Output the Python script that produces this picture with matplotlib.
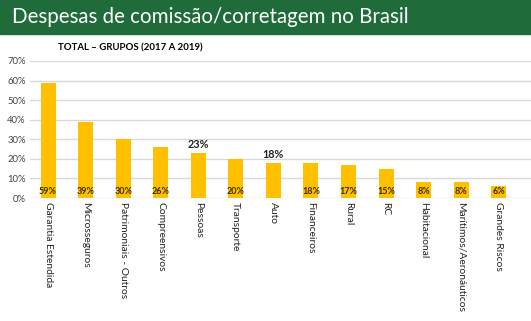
import matplotlib.pyplot as plt
from matplotlib.patches import Rectangle

categories = ["Garantia Estendida", "Microsseguros", "Patrimoniais - Outros",
              "Compreensivos", "Pessoas", "Transporte", "Auto", "Financeiros",
              "Rural", "RC", "Habitacional", "Marítimos/Aeronáuticos",
              "Grandes Riscos"]
values = [59, 39, 30, 26, 23, 20, 18, 18, 17, 15, 8, 8, 6]
highlighted = ["Pessoas", "Auto"]   # labels drawn above these bars
yticks = [0, 10, 20, 30, 40, 50, 60, 70]

plt.rcParams['font.family'] = ['Lato', 'DejaVu Sans']

fig = plt.figure(figsize=(5.31, 3.21), dpi=100)
fig.patch.set_facecolor("white")

# green header band
fig.patches.append(Rectangle((0, 1 - 34 / 321), 1, 34 / 321,
                             transform=fig.transFigure, color="#1F6B3A", zorder=0))
fig.text(12 / 531, 1 - 17 / 321, "Despesas de comissão/corretagem no Brasil",
         color="white", fontsize=14.8, va="center", ha="left")
fig.text(58 / 531, 1 - 48 / 321, "TOTAL – GRUPOS (2017 A 2019)",
         fontsize=6.9, fontweight="bold", va="center", ha="left")

ax = fig.add_axes([30 / 531, 123 / 321, 501 / 531, 137 / 321])
x = list(range(len(categories)))
ax.bar(x, values, width=0.4, color="#FFC000", zorder=2)

for xi, cat, v in zip(x, categories, values):
    if cat in highlighted:
        ax.text(xi, v + 1.5, f"{v}%", ha="center", va="bottom",
                fontsize=7.8, fontweight="bold", color="#222222")
    else:
        ax.text(xi, 3.2, f"{v}%", ha="center", va="center",
                fontsize=6.5, fontweight="bold", color="#3A2E00", zorder=3)

ax.set_xlim(-0.48, 12.86)
ax.set_ylim(0, 70)
ax.set_yticks(yticks)
ax.set_yticklabels([f"{t}%" for t in yticks], fontsize=6.8, color="#444444")
ax.set_xticks(x)
ax.set_xticklabels(categories, rotation=270, fontsize=7.4, color="#222222",
                   va="top", ha="center")
ax.tick_params(length=0, pad=3)
ax.grid(axis="y", color="#D9D9D9", lw=1, zorder=0)
for s in ax.spines.values():
    s.set_visible(False)

fig.savefig("out.png", dpi=100)
